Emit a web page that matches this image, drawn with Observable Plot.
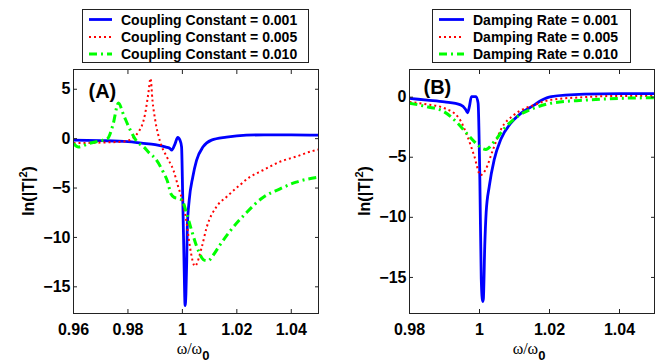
<!DOCTYPE html>
<html><head><meta charset="utf-8">
<script src="https://cdn.jsdelivr.net/npm/d3@7"></script>
<script src="https://cdn.jsdelivr.net/npm/@observablehq/plot@0.6"></script>
<style>
body{margin:0;background:#fff;}
#wrap{position:relative;width:664px;height:362px;overflow:hidden;background:#fff;}
#wrap > svg{position:absolute;top:0;}
</style>
</head><body><div id="wrap"></div>
<script>
// ---------- Data ----------
const legendA = ["Coupling Constant = 0.001", "Coupling Constant = 0.005", "Coupling Constant = 0.010"];
const legendB = ["Damping Rate = 0.001", "Damping Rate = 0.005", "Damping Rate = 0.010"];
const panelLabels = ["(A)", "(B)"];
const yLabelParts = ["ln(|T|", "2", ")"];
const xLabelParts = ["ω/ω", "0"];

const xTicksA = [0.96, 0.98, 1, 1.02, 1.04];
const yTicksA = [5, 0, -5, -10, -15];
const xTicksB = [0.98, 1, 1.02, 1.04];
const yTicksB = [0, -5, -10, -15];

// Panel A, coupling constant 0.001
const aX1 = [0.960, 0.970, 0.980, 0.985, 0.990, 0.994, 0.9955, 0.9961, 0.9972, 0.9983, 0.9991, 0.9997, 1.0001, 1.0006, 1.0010, 1.0013, 1.0016, 1.0018, 1.0025, 1.0038, 1.0052, 1.0076, 1.0107, 1.0162, 1.0235, 1.030, 1.040, 1.050];
const aY1 = [-0.15, -0.2, -0.3, -0.45, -0.6, -0.85, -1.0, -1.17, -0.6, 0.12, -0.15, -0.83, -5.6, -12.4, -16.9, -15.7, -12.35, -9.0, -6.25, -3.9, -2.2, -0.83, -0.15, 0.15, 0.35, 0.38, 0.38, 0.35];
// Panel A, coupling constant 0.005
const aX2 = [0.960, 0.970, 0.978, 0.981, 0.9839, 0.9851, 0.9863, 0.9875, 0.9883, 0.9890, 0.9900, 0.9918, 0.9943, 0.9967, 0.9985, 1.0003, 1.0016, 1.0028, 1.0046, 1.0071, 1.0089, 1.0125, 1.0162, 1.0211, 1.0247, 1.0296, 1.0357, 1.0420, 1.0479, 1.050];
const aY2 = [-0.45, -0.4, -0.3, -0.1, 0.7, 1.3, 2.5, 4.6, 6.1, 3.9, 1.9, -0.3, -1.85, -3.2, -4.9, -6.6, -8.6, -11.0, -12.9, -11.0, -9.0, -6.9, -5.9, -4.7, -3.9, -3.2, -2.35, -1.8, -1.24, -1.1];
// Panel A, coupling constant 0.010
const aX3 = [0.960, 0.9618, 0.9655, 0.970, 0.9725, 0.9745, 0.9765, 0.9784, 0.9808, 0.9833, 0.9857, 0.9880, 0.9900, 0.9930, 0.9945, 0.9958, 0.9970, 0.9990, 1.0000, 1.0016, 1.0034, 1.0058, 1.0080, 1.0095, 1.0113, 1.0137, 1.0174, 1.0235, 1.0296, 1.0357, 1.0418, 1.050];
const aY3 = [-0.5, -0.85, -0.5, -0.2, 0.0, 1.4, 3.6, 2.4, 0.9, -0.3, -0.8, -1.5, -2.0, -3.4, -4.3, -5.6, -5.95, -6.1, -6.3, -7.6, -9.3, -11.3, -12.3, -12.35, -11.8, -10.8, -9.4, -7.5, -5.95, -5.1, -4.4, -3.9];

// Panel B, damping rate 0.001
const bX1 = [0.980, 0.985, 0.990, 0.9946, 0.9960, 0.9966, 0.9971, 0.9977, 0.9990, 0.9996, 1.0001, 1.0005, 1.0009, 1.0011, 1.0015, 1.0019, 1.0028, 1.0042, 1.0061, 1.0090, 1.0119, 1.0157, 1.0176, 1.0205, 1.030, 1.040, 1.050];
const bY1 = [-0.1, -0.25, -0.4, -0.64, -1.0, -1.3, -0.8, 0.05, 0.05, -0.5, -6.85, -15.1, -17.0, -16.8, -12.4, -9.6, -7.4, -5.2, -3.5, -2.15, -1.33, -0.64, -0.28, 0.05, 0.25, 0.3, 0.3];
// Panel B, damping rate 0.005
const bX2 = [0.980, 0.985, 0.9898, 0.9941, 0.9966, 0.9985, 1.0003, 1.0018, 1.0037, 1.0061, 1.0099, 1.0157, 1.0205, 1.030, 1.040, 1.050];
const bY2 = [-0.4, -0.6, -0.9, -1.74, -3.3, -4.9, -6.5, -6.0, -4.5, -2.7, -1.47, -0.64, -0.22, 0.0, 0.1, 0.1];
// Panel B, damping rate 0.010
const bX3 = [0.980, 0.985, 0.9898, 0.9937, 0.9966, 0.9994, 1.0010, 1.0018, 1.0042, 1.0071, 1.0109, 1.0157, 1.0205, 1.030, 1.040, 1.050];
const bY3 = [-0.5, -0.8, -1.2, -2.15, -3.1, -3.95, -4.3, -4.35, -3.7, -2.6, -1.6, -0.9, -0.5, -0.25, -0.1, -0.05];

// ---------- Styling ----------
const FONT = "'Liberation Sans', Arial, Helvetica, sans-serif";
const seriesStyle = [
  {stroke: "#0000ff", strokeWidth: 2.8, strokeDasharray: null},
  {stroke: "#ff0000", strokeWidth: 2, strokeDasharray: "2,3"},
  {stroke: "#00ff00", strokeWidth: 3, strokeDasharray: "8,4,2,4"}
];
const toRows = (xs, ys) => xs.map((x, i) => ({x, y: ys[i]}));
const blank = () => "";
const fmt = d => String(d).replace("-", "\u2212");

function makePanel({xs, ys, xDomain, yDomain, xTicks, yTicks, width, mL, mR, label, labelDx, labelDy}) {
  const lines = xs.map((xv, k) => Plot.line(toRows(xv, ys[k]), {
    x: "x", y: "y", curve: "monotone-x", clip: true,
    stroke: seriesStyle[k].stroke, strokeWidth: seriesStyle[k].strokeWidth,
    strokeDasharray: seriesStyle[k].strokeDasharray, strokeLinecap: "butt"
  }));
  return Plot.plot({
    width, height: 362,
    marginLeft: mL, marginRight: mR, marginTop: 69, marginBottom: 49,
    x: {domain: xDomain},
    y: {domain: yDomain},
    style: {fontFamily: FONT, fontSize: "16px", fontWeight: "bold", color: "#000", background: "transparent"},
    marks: [
      ...lines,
      Plot.frame({stroke: "#222", strokeWidth: 1}),
      Plot.axisX({anchor: "bottom", ticks: xTicks, tickSize: 0, tickPadding: 10, tickFormat: fmt, label: null}),
      Plot.axisY({anchor: "left", ticks: yTicks, tickSize: 0, tickPadding: 3, tickFormat: fmt, label: null}),
      Plot.axisX({anchor: "bottom", ticks: xTicks, tickSize: 4, dy: -4, tickFormat: blank, label: null, stroke: "#222"}),
      Plot.axisX({anchor: "top", ticks: xTicks, tickSize: 4, dy: 4, tickFormat: blank, label: null, stroke: "#222"}),
      Plot.axisY({anchor: "left", ticks: yTicks, tickSize: 4, dx: 4, tickFormat: blank, label: null, stroke: "#222"}),
      Plot.axisY({anchor: "right", ticks: yTicks, tickSize: 4, dx: -4, tickFormat: blank, label: null, stroke: "#222"}),
      Plot.text([label], {text: d => d, frameAnchor: "top-left", dx: labelDx, dy: labelDy,
        textAnchor: "start", lineAnchor: "top", fontSize: 20, fontWeight: "bold", fill: "#000"})
    ]
  });
}

function addAxisLabels(svg, yx, yy, xx, xy) {
  const s = d3.select(svg);
  const yl = s.append("text")
    .attr("transform", `translate(${yx},${yy}) rotate(-90)`)
    .attr("text-anchor", "middle").attr("fill", "#000")
    .style("font-family", FONT).style("font-weight", "bold").style("font-size", "16px");
  yl.append("tspan").text(yLabelParts[0]);
  yl.append("tspan").attr("dy", -7).style("font-size", "11px").text(yLabelParts[1]);
  yl.append("tspan").attr("dy", 7).text(yLabelParts[2]);
  const xl = s.append("text")
    .attr("x", xx).attr("y", xy).attr("text-anchor", "middle").attr("fill", "#000");
  xl.append("tspan").style("font-family", "'Liberation Serif', 'Times New Roman', serif")
    .style("font-size", "16px").style("font-weight", "normal").text(xLabelParts[0]);
  xl.append("tspan").attr("dy", 6).style("font-family", FONT)
    .style("font-size", "13px").style("font-weight", "bold").text(xLabelParts[1]);
}

function makeLegend(labels, left, width, sampleX0, sampleX1, textX) {
  const svg = d3.create("svg").attr("width", width + 2).attr("height", 56)
    .style("position", "absolute").style("left", left + "px").style("top", "9px");
  svg.append("rect").attr("x", 0.5).attr("y", 0.5).attr("width", width).attr("height", 53)
    .attr("fill", "#fff").attr("stroke", "#222").attr("stroke-width", 1);
  const rows = [10.5, 28, 45];
  labels.forEach((t, i) => {
    const st = seriesStyle[i];
    svg.append("line").attr("x1", sampleX0).attr("x2", sampleX1).attr("y1", rows[i]).attr("y2", rows[i])
      .attr("stroke", st.stroke).attr("stroke-width", st.strokeWidth)
      .attr("stroke-dasharray", st.strokeDasharray);
    svg.append("text").attr("x", textX).attr("y", rows[i]).attr("dy", "0.36em")
      .attr("fill", "#000").style("font-family", FONT).style("font-weight", "bold")
      .style("font-size", "14px").text(t);
  });
  return svg.node();
}

const wrap = document.getElementById("wrap");

const pA = makePanel({xs: [aX1, aX2, aX3], ys: [aY1, aY2, aY3], xDomain: [0.96, 1.05], yDomain: [-17.7, 7],
  xTicks: xTicksA, yTicks: yTicksA, width: 332, mL: 73, mR: 14, label: panelLabels[0], labelDx: 15, labelDy: 14});
pA.style.left = "0px";
addAxisLabels(pA, 34, 191, 193, 354);
wrap.appendChild(pA);

const pB = makePanel({xs: [bX1, bX2, bX3], ys: [bY1, bY2, bY3], xDomain: [0.98, 1.05], yDomain: [-18, 2.3],
  xTicks: xTicksB, yTicks: yTicksB, width: 332, mL: 77, mR: 10, label: panelLabels[1], labelDx: 14, labelDy: 10});
pB.style.left = "332px";
addAxisLabels(pB, 38, 191, 197, 354);
wrap.appendChild(pB);

wrap.appendChild(makeLegend(legendA, 82, 226, 7, 30, 39));
wrap.appendChild(makeLegend(legendB, 432, 198, 7, 32, 41));
</script>
</body></html>
